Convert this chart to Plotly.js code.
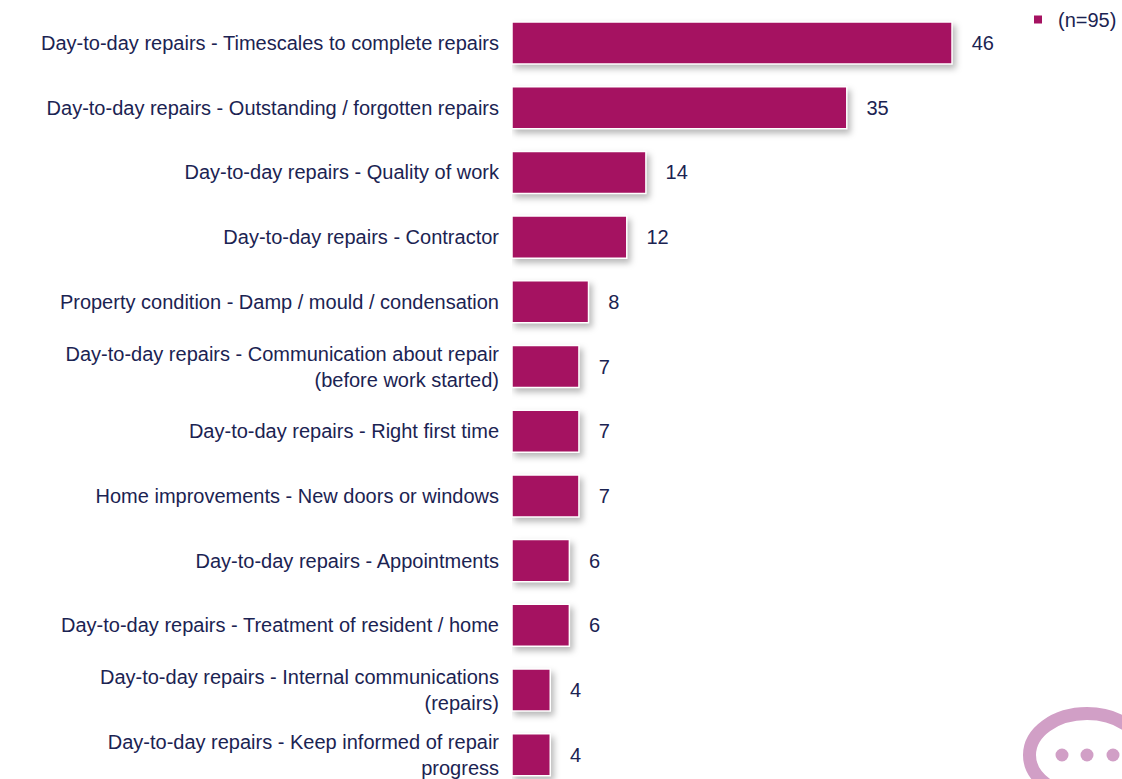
<!DOCTYPE html>
<html><head><meta charset="utf-8">
<script src="https://cdn.plot.ly/plotly-3.0.1.min.js"></script>
<style>
html,body{margin:0;padding:0;background:#fff;overflow:hidden}
#chart{width:1122px;height:779px}
.barlayer .point path{filter:drop-shadow(3px 4px 3px rgba(0,0,0,0.28))}
</style></head><body><div id="chart"></div>
<script>
const categories = [
 "Day-to-day repairs - Timescales to complete repairs",
 "Day-to-day repairs - Outstanding / forgotten repairs",
 "Day-to-day repairs - Quality of work",
 "Day-to-day repairs - Contractor",
 "Property condition - Damp / mould / condensation",
 "Day-to-day repairs - Communication about repair<br>(before work started)",
 "Day-to-day repairs - Right first time",
 "Home improvements - New doors or windows",
 "Day-to-day repairs - Appointments",
 "Day-to-day repairs - Treatment of resident / home",
 "Day-to-day repairs - Internal communications<br>(repairs)",
 "Day-to-day repairs - Keep informed of repair<br>progress"
];
const values = [46,35,14,12,8,7,7,7,6,6,4,4];
const seriesName = "(n=95)";
const barColor = "#a51261";
const textColor = "#1b2352";
const iconColor = "#d19fc6";
const W=1122,H=779,L=512;
const px=x=>(x-L)/(W-L), py=y=>1-y/H;
const dotXs=[1062,1087,1113];
const shapes=[{type:"circle",xref:"paper",yref:"paper",x0:px(1029.5),x1:px(1144.5),y0:py(713.5),y1:py(796.5),line:{color:iconColor,width:13},fillcolor:"rgba(0,0,0,0)"}]
 .concat(dotXs.map(x=>({type:"circle",xref:"paper",yref:"paper",x0:px(x-6.5),x1:px(x+6.5),y0:py(748.5),y1:py(761.5),line:{width:0},fillcolor:iconColor})));
Plotly.newPlot("chart",[
 {type:"bar",orientation:"h",y:categories,x:values,showlegend:false,
  marker:{color:barColor,line:{color:"#ffffff",width:1.5}},
  text:values.map(v=>"\u00a0\u00a0\u00a0"+v),textposition:"outside",cliponaxis:false,
  textfont:{family:"Liberation Sans",size:20,color:textColor},hoverinfo:"skip"},
 {type:"scatter",mode:"markers",x:[null],y:[null],name:seriesName,
  marker:{symbol:"square",size:8,color:barColor},hoverinfo:"skip"}
],{
 width:W,height:H,margin:{l:L,r:0,t:0,b:0,pad:0},
 paper_bgcolor:"#fff",plot_bgcolor:"#fff",bargap:0.35,
 font:{family:"Liberation Sans",size:20,color:textColor},
 xaxis:{range:[0,63.77],visible:false,fixedrange:true},
 yaxis:{type:"category",categoryorder:"array",categoryarray:categories,range:[11.375,-0.665],
  showgrid:false,zeroline:false,showline:false,ticks:"",ticklabelstandoff:12,
  tickfont:{family:"Liberation Sans",size:20,color:textColor},automargin:false,fixedrange:true},
 showlegend:true,
 legend:{x:1,xanchor:"right",y:1,yanchor:"top",bgcolor:"rgba(0,0,0,0)",font:{size:20,color:textColor},itemwidth:30},
 shapes:shapes
},{displayModeBar:false,staticPlot:true});
</script></body></html>
